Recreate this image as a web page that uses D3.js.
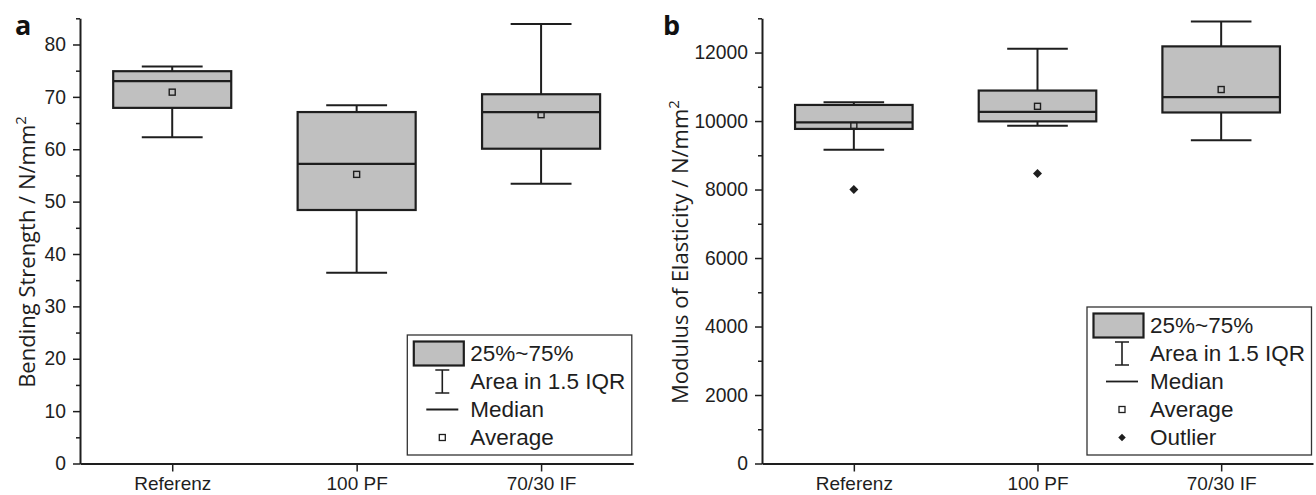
<!DOCTYPE html>
<html>
<head>
<meta charset="utf-8">
<script src="https://cdn.jsdelivr.net/npm/d3@7"></script>
<style>
body { margin: 0; background: #fff; }
svg { display: block; }
</style>
</head>
<body>
<script>
var categories = ["Referenz", "100 PF", "70/30 IF"];

// bending strength / N/mm2
var bendLow      = [62.3, 36.4, 53.4];
var bendQ1       = [67.9, 48.4, 60.1];
var bendMedian   = [73.0, 57.2, 67.1];
var bendQ3       = [74.9, 67.1, 70.5];
var bendHigh     = [75.8, 68.4, 83.9];
var bendMean     = [70.9, 55.2, 66.6];
var bendOutliers = [[], [], []];
var bendTicks    = [0, 10, 20, 30, 40, 50, 60, 70, 80];

// modulus of elasticity / N/mm2
var moeLow      = [9160, 9860, 9440];
var moeQ1       = [9770, 9990, 10250];
var moeMedian   = [9960, 10270, 10700];
var moeQ3       = [10470, 10890, 12180];
var moeHigh     = [10550, 12110, 12910];
var moeMean     = [9870, 10430, 10920];
var moeOutliers = [[8000], [8470], []];
var moeTicks    = [0, 2000, 4000, 6000, 8000, 10000, 12000];

var width = 1316;
var height = 495;
var ink = "#1e1e1e";
var boxFill = "#c0c0c0";
var tickFont = "Liberation Sans, Arimo, Arial, sans-serif";
var titleFont = "Open Sans, DejaVu Sans, sans-serif";

var svg = d3.select("body").append("svg")
  .attr("width", width)
  .attr("height", height);

function stats(low, q1, med, q3, high, mean, outl) {
  return categories.map(function(c, i) {
    return {cat: c, low: low[i], q1: q1[i], med: med[i], q3: q3[i], high: high[i], mean: mean[i], out: outl[i]};
  });
}

function drawPanel(p) {
  var g = svg.append("g");
  var x = d3.scalePoint().domain(categories).range([p.left, p.right]).padding(0.5);
  var y = d3.scaleLinear().domain([0, p.yMax]).range([p.bottom, p.top]);
  var step = x.step();
  var boxW = step * 0.64;
  var capW = step * 0.33;

  // minor ticks
  var minor = d3.range(0, p.yMax + 1e-9, p.minorStep).filter(function(v) { return p.ticks.indexOf(v) < 0; });
  g.append("g")
    .attr("transform", "translate(" + p.left + ",0)")
    .call(d3.axisLeft(y).tickValues(minor).tickSize(4).tickSizeOuter(0).tickFormat(""))
    .call(function(a) {
      a.select(".domain").remove();
      a.selectAll("line").attr("stroke", ink).attr("stroke-width", 1.5);
    });

  var yAxis = g.append("g")
    .attr("transform", "translate(" + p.left + ",0)")
    .call(d3.axisLeft(y).tickValues(p.ticks).tickFormat(d3.format("d"))
      .tickSize(7).tickSizeOuter(0).tickPadding(7));
  yAxis.attr("font-family", tickFont).attr("font-size", 19.3);
  yAxis.select(".domain").attr("stroke", ink).attr("stroke-width", 2);
  yAxis.selectAll(".tick line").attr("stroke", ink).attr("stroke-width", 1.5);
  yAxis.selectAll(".tick text").attr("fill", ink);

  var xAxis = g.append("g")
    .attr("transform", "translate(0," + p.bottom + ")")
    .call(d3.axisBottom(x).tickSize(8).tickSizeOuter(0).tickPadding(5));
  xAxis.attr("font-family", tickFont).attr("font-size", 19);
  xAxis.select(".domain").attr("stroke", ink).attr("stroke-width", 2);
  xAxis.selectAll(".tick line").attr("stroke", ink).attr("stroke-width", 1.5);
  xAxis.selectAll(".tick text").attr("fill", ink);

  // boxes
  var b = g.selectAll(".box").data(p.data).enter().append("g").attr("class", "box");
  b.append("line")
    .attr("x1", function(d) { return x(d.cat); }).attr("x2", function(d) { return x(d.cat); })
    .attr("y1", function(d) { return y(d.high); }).attr("y2", function(d) { return y(d.q3); })
    .attr("stroke", ink).attr("stroke-width", 2);
  b.append("line")
    .attr("x1", function(d) { return x(d.cat); }).attr("x2", function(d) { return x(d.cat); })
    .attr("y1", function(d) { return y(d.q1); }).attr("y2", function(d) { return y(d.low); })
    .attr("stroke", ink).attr("stroke-width", 2);
  ["high", "low"].forEach(function(k) {
    b.append("line")
      .attr("x1", function(d) { return x(d.cat) - capW / 2; })
      .attr("x2", function(d) { return x(d.cat) + capW / 2; })
      .attr("y1", function(d) { return y(d[k]); }).attr("y2", function(d) { return y(d[k]); })
      .attr("stroke", ink).attr("stroke-width", 2);
  });
  b.append("rect")
    .attr("x", function(d) { return x(d.cat) - boxW / 2; })
    .attr("width", boxW)
    .attr("y", function(d) { return y(d.q3); })
    .attr("height", function(d) { return y(d.q1) - y(d.q3); })
    .attr("fill", boxFill).attr("stroke", ink).attr("stroke-width", 2.2);
  b.append("line")
    .attr("x1", function(d) { return x(d.cat) - boxW / 2; })
    .attr("x2", function(d) { return x(d.cat) + boxW / 2; })
    .attr("y1", function(d) { return y(d.med); }).attr("y2", function(d) { return y(d.med); })
    .attr("stroke", ink).attr("stroke-width", 2.2);
  b.append("rect")
    .attr("x", function(d) { return x(d.cat) - 3; })
    .attr("y", function(d) { return y(d.mean) - 3; })
    .attr("width", 6).attr("height", 6)
    .attr("fill", "none").attr("stroke", ink).attr("stroke-width", 1.4);
  b.selectAll(".outlier")
    .data(function(d) { return d.out.map(function(v) { return {cat: d.cat, v: v}; }); })
    .enter().append("path")
    .attr("class", "outlier")
    .attr("d", d3.symbol().type(d3.symbolSquare).size(40))
    .attr("transform", function(d) { return "translate(" + x(d.cat) + "," + y(d.v) + ") rotate(45)"; })
    .attr("fill", ink);

  // y title
  var t = g.append("text")
    .attr("transform", "translate(" + p.titleX + ",252) rotate(-90)")
    .attr("text-anchor", "middle")
    .attr("font-family", titleFont).attr("font-size", 22).attr("fill", ink);
  t.append("tspan").text(p.title);
  t.append("tspan").attr("dy", -9).attr("font-size", 15).text("2");

  // panel letter
  g.append("text")
    .attr("x", p.letterX).attr("y", 35)
    .attr("font-family", titleFont).attr("font-weight", "bold").attr("font-size", 27)
    .attr("fill", "#111")
    .text(p.letter);

  // legend
  var n = p.legend.length;
  var lw = 224.5;
  var lh = 37 + 28 * (n - 1) - 1;
  var lx = p.right - 1.5 - lw;
  var ly = p.bottom - 8.5 - lh;
  var lg = g.append("g").attr("transform", "translate(" + lx + "," + ly + ")");
  lg.append("rect").attr("width", lw).attr("height", lh)
    .attr("fill", "#fff").attr("stroke", "#333").attr("stroke-width", 1.3);
  var sx = 35;
  p.legend.forEach(function(item, i) {
    var cy = 18.5 + 28 * i;
    if (item === "25%~75%") {
      lg.append("rect").attr("x", 6.5).attr("y", cy - 12).attr("width", 50).attr("height", 24)
        .attr("fill", boxFill).attr("stroke", ink).attr("stroke-width", 2.2);
    } else if (item === "Area in 1.5 IQR") {
      lg.append("path")
        .attr("d", "M" + (sx - 7) + "," + (cy - 11.5) + "H" + (sx + 7) +
          "M" + sx + "," + (cy - 11.5) + "V" + (cy + 11.5) +
          "M" + (sx - 7) + "," + (cy + 11.5) + "H" + (sx + 7))
        .attr("stroke", ink).attr("stroke-width", 1.6).attr("fill", "none");
    } else if (item === "Median") {
      lg.append("line").attr("x1", sx - 16).attr("x2", sx + 16).attr("y1", cy).attr("y2", cy)
        .attr("stroke", ink).attr("stroke-width", 1.8);
    } else if (item === "Average") {
      lg.append("rect").attr("x", sx - 3).attr("y", cy - 3).attr("width", 6).attr("height", 6)
        .attr("fill", "none").attr("stroke", ink).attr("stroke-width", 1.3);
    } else if (item === "Outlier") {
      lg.append("path").attr("d", d3.symbol().type(d3.symbolSquare).size(28))
        .attr("transform", "translate(" + sx + "," + cy + ") rotate(45)").attr("fill", ink);
    }
    lg.append("text").attr("x", 63).attr("y", cy + 7.5)
      .attr("font-family", tickFont).attr("font-size", 22.5).attr("fill", ink)
      .text(item);
  });
}

drawPanel({
  left: 80, right: 633.3, top: 18.3, bottom: 463.5,
  yMax: 85, ticks: bendTicks, minorStep: 5,
  data: stats(bendLow, bendQ1, bendMedian, bendQ3, bendHigh, bendMean, bendOutliers),
  title: "Bending Strength / N/mm", titleX: 35,
  letter: "a", letterX: 15,
  legend: ["25%~75%", "Area in 1.5 IQR", "Median", "Average"]
});

drawPanel({
  left: 762, right: 1313, top: 18.3, bottom: 463.5,
  yMax: 13000, ticks: moeTicks, minorStep: 1000,
  data: stats(moeLow, moeQ1, moeMedian, moeQ3, moeHigh, moeMean, moeOutliers),
  title: "Modulus of Elasticity / N/mm", titleX: 688,
  letter: "b", letterX: 663,
  legend: ["25%~75%", "Area in 1.5 IQR", "Median", "Average", "Outlier"]
});
</script>
</body>
</html>
